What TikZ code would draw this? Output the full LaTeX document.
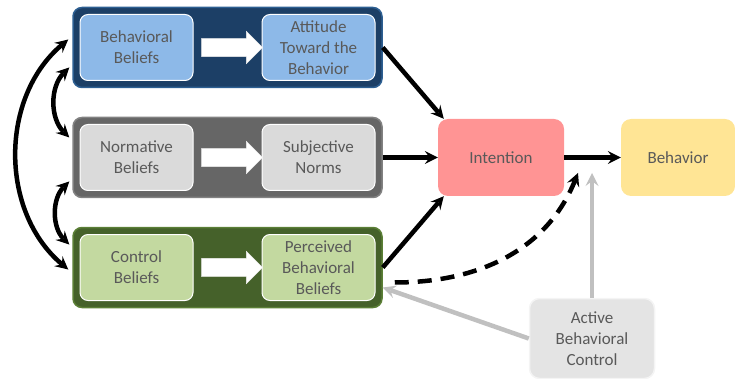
\documentclass[tikz,border=0pt]{standalone}
\usepackage{fontspec}
\setmainfont{Carlito}
\usetikzlibrary{shapes.arrows}

\definecolor{txtgray}{HTML}{595959}
\definecolor{bluedark}{HTML}{1C3F66}
\definecolor{blueedge}{HTML}{2D5F92}
\definecolor{bluelight}{HTML}{8DB9E8}
\definecolor{graydark}{HTML}{666666}
\definecolor{grayedge}{HTML}{828282}
\definecolor{graylight}{HTML}{DADADA}
\definecolor{greendark}{HTML}{45612A}
\definecolor{greenedge}{HTML}{5B7F36}
\definecolor{greenlight}{HTML}{C3D9A0}
\definecolor{intred}{HTML}{FF9494}
\definecolor{behyellow}{HTML}{FFE595}
\definecolor{abcgray}{HTML}{E4E4E4}
\definecolor{abcedge}{HTML}{F4F4F4}
\definecolor{arrowgray}{HTML}{C0C0C0}

\begin{document}
\begin{tikzpicture}[x=1pt, y=1pt, node distance=110pt, font=\fontsize{17}{21}\selectfont]
      \tikzstyle{group} = [rectangle, rounded corners=9pt, minimum width=309pt, minimum height=80pt, line width=1.5pt]
      \tikzstyle{belief} = [rectangle, rounded corners=8pt, minimum width=113pt, minimum height=66pt, text centered, align=center, text=txtgray, draw=white, line width=1pt]
      \tikzstyle{outcome} = [rectangle, rounded corners=10pt, minimum width=126pt, minimum height=77pt, text centered, align=center, text=txtgray]
      \tikzstyle{blockarrow} = [single arrow, fill=white, draw=gray!15, minimum height=61pt, single arrow head extend=7pt, inner xsep=0pt, inner ysep=9pt]
      \tikzstyle{arrow} = [line width=4.5pt,->,>=stealth]
      \tikzstyle{both} = [line width=4.5pt,<->,>=stealth]
      \tikzstyle{grayarrow} = [line width=4.5pt,->,>=stealth,draw=arrowgray]

      \useasboundingbox (0,0) rectangle (735,-379);

      \node (bbox) [group, fill=bluedark, draw=blueedge] at (227.5,-47.5) {};
      \node (nbox) [group, fill=graydark, draw=grayedge, below of=bbox] {};
      \node (cbox) [group, fill=greendark, draw=greenedge, below of=nbox] {};

      \node (b1) [belief, fill=bluelight, xshift=-91pt] at (bbox) {Behavioral\\Beliefs};
      \node (b2) [belief, fill=bluelight, xshift=91pt] at (bbox) {Attitude\\Toward the\\Behavior};
      \node (ba) [blockarrow] at (bbox) {};

      \node (n1) [belief, fill=graylight, xshift=-91pt] at (nbox) {Normative\\Beliefs};
      \node (n2) [belief, fill=graylight, xshift=91pt] at (nbox) {Subjective\\Norms};
      \node (na) [blockarrow] at (nbox) {};

      \node (c1) [belief, fill=greenlight, xshift=-91pt] at (cbox) {Control\\Beliefs};
      \node (c2) [belief, fill=greenlight, xshift=91pt] at (cbox) {Perceived\\Behavioral\\Beliefs};
      \node (ca) [blockarrow] at (cbox) {};

      \node (int) [outcome, fill=intred, right of=nbox, xshift=163.5pt] {Intention};
      \node (beh) [outcome, fill=behyellow, minimum width=114pt, right of=int, xshift=67pt] {Behavior};
      \node (abc) [outcome, fill=abcgray, draw=abcedge, line width=1.5pt, minimum width=125pt, minimum height=80pt, below of=int, xshift=91pt, yshift=-71pt] {Active\\Behavioral\\Control};

      \coordinate (dashend) at (578,-173);

      % left side
      \draw [both] ([xshift=-4pt,yshift=8pt]bbox.west) to[bend right=50] ([xshift=-4pt,yshift=-2pt]cbox.west);
      \draw [both] ([xshift=-3pt,yshift=-20pt]bbox.west) to[bend right=45] ([xshift=-3pt,yshift=20pt]nbox.west);
      \draw [both] ([xshift=-3pt,yshift=-24pt]nbox.west) to[bend right=45] ([xshift=-3pt,yshift=23pt]cbox.west);

      \draw [arrow] (bbox.east) -- ([xshift=6pt]int.north west);
      \draw [arrow] (nbox) -- (int);
      \draw [arrow] (cbox.east) -- ([xshift=6pt]int.south west);
      \draw [arrow] (int) -- (beh);

      \draw [arrow, dash pattern=on 14pt off 9pt] ([xshift=12pt,yshift=-15pt]cbox.east) to[out=0,in=-112] (dashend);

      \draw [grayarrow] (abc.north) -- (abc.north |- dashend);
      \draw [grayarrow] (abc.west) -- ([yshift=-20pt]cbox.east);
    \end{tikzpicture}
\end{document}
